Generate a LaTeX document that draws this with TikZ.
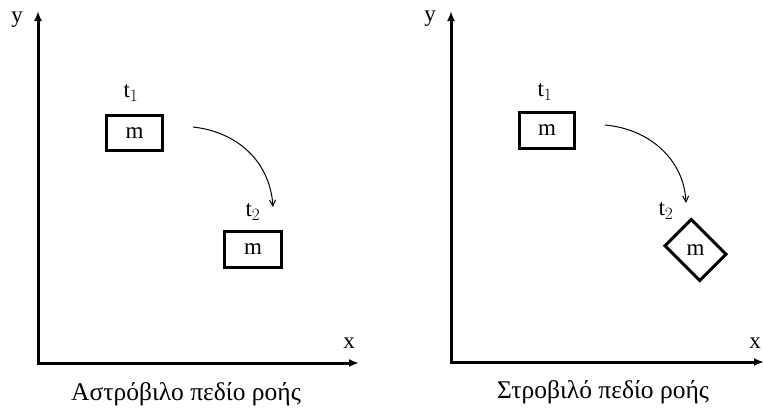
\documentclass[tikz,border=0pt]{standalone}
\usepackage{fontspec}
\setmainfont{Liberation Serif}
\usetikzlibrary{arrows.meta}
\begin{document}
\begin{tikzpicture}[x=1pt,y=-1pt,
  axis/.style={line width=3pt,-{Latex[length=10pt,width=8pt]}},
  mbox/.style={draw,line width=3.4pt,minimum width=56pt,minimum height=35pt,inner sep=0pt},
  lbl/.style={font=\fontsize{23}{26}\selectfont,inner sep=0pt},
  tlbl/.style={font=\fontsize{23}{26}\selectfont,inner sep=0pt},
  move/.style={line width=1pt,-{Straight Barb[length=6pt,width=6pt]}},
  captext/.style={font=\fontsize{25.5}{28}\selectfont,inner sep=0pt}]
\useasboundingbox (0,0) rectangle (763,410);
% left panel
\coordinate (lo) at (38,363);
\coordinate (ly) at (38,11);
\coordinate (lx) at (359,363);
\draw[axis] (lo) -- (ly);
\draw[axis] ([xshift=-1.5pt]lo) -- (lx);
\node[lbl] (lyl) at (17,20) {y};
\node[lbl] (lxl) at (349,343) {x};
\node[mbox] (lb1) at (134.5,133) {};
\node[lbl] (lm1) at (lb1) {m};
\node[tlbl] (lt1) at (131,93) {t$_1$};
\node[mbox,minimum width=57pt,minimum height=36pt] (lb2) at (253,249.5) {};
\node[lbl] (lm2) at (lb2) {m};
\node[tlbl] (lt2) at (253,212) {t$_2$};
\coordinate (la) at (193,127);
\coordinate (lb) at (273,207);
\draw[move] (la) .. controls (238,132) and (270,162) .. (lb);
\node[captext] (lcap) at (186,394) {Αστρόβιλο πεδίο ροής};
% right panel
\coordinate (ro) at (451,362);
\coordinate (ry) at (451,11);
\coordinate (rx) at (764,362);
\draw[axis] (ro) -- (ry);
\draw[axis] ([xshift=-1.5pt]ro) -- (rx);
\node[lbl] (ryl) at (430,19) {y};
\node[lbl] (rxl) at (755,343) {x};
\node[mbox,minimum width=55pt,minimum height=36pt] (rb1) at (547,130.5) {};
\node[lbl] (rm1) at (rb1) {m};
\node[tlbl] (rt1) at (545,92) {t$_1$};
\node[draw,line width=3pt,minimum width=49pt,minimum height=37pt,inner sep=0pt,rotate=-45] (rb2) at (695.5,250) {};
\node[lbl] (rm2) at (rb2) {m};
\node[tlbl] (rt2) at (666,211) {t$_2$};
\coordinate (ra) at (605,125);
\coordinate (rb) at (686,203);
\draw[move] (ra) .. controls (650,129) and (684,160) .. (rb);
\node[captext] (rcap) at (603,392) {Στροβιλό πεδίο ροής};
\end{tikzpicture}
\end{document}
